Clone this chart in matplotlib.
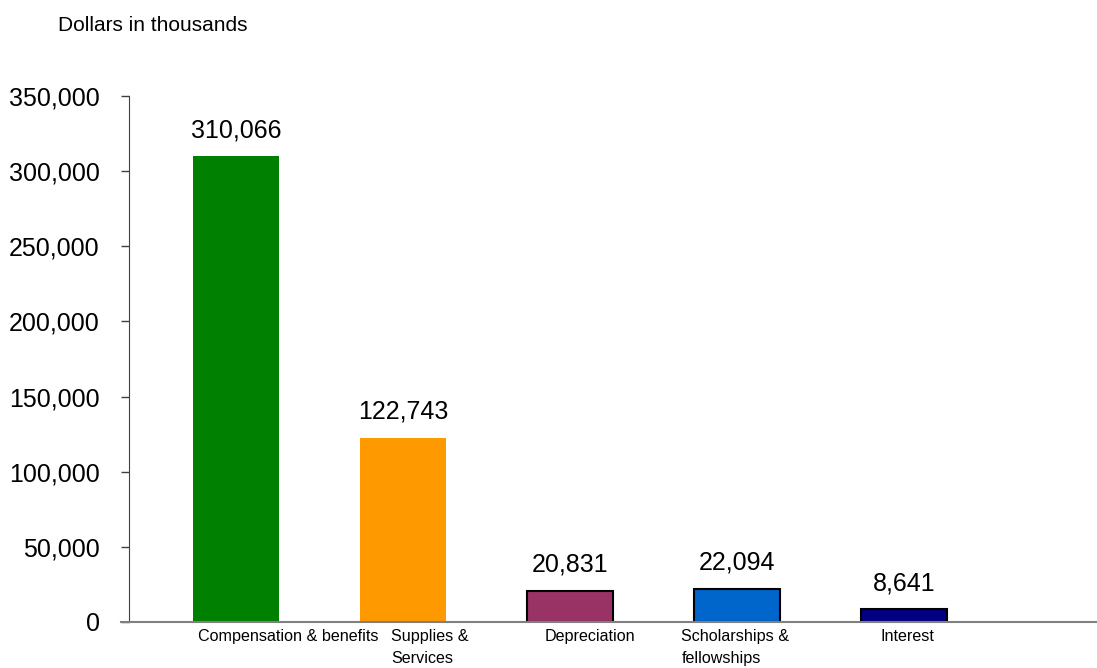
import matplotlib
matplotlib.use("Agg")
import matplotlib.pyplot as plt
import matplotlib.transforms as mtransforms
from matplotlib.ticker import FuncFormatter

# --- data ---
categories = ["Compensation & benefits", "Supplies &\nServices", "Depreciation",
              "Scholarships &\nfellowships", "Interest"]
values = [310066, 122743, 20831, 22094, 8641]
colors = ["#008000", "#FF9900", "#993366", "#0066CC", "#000080"]
edged = [False, False, True, True, True]
label_shift = [0.31, 0.16, 0.12, -0.01, 0.02]   # nudges for the category labels

plt.rcParams["font.family"] = ["Liberation Sans", "DejaVu Sans"]

fig = plt.figure(figsize=(10.97, 6.68), dpi=100)
ax = fig.add_axes([0.1103, 0.0689, 0.8897, 0.7874])

for i, v in enumerate(values):
    ax.bar(i, v, width=0.515, color=colors[i],
           edgecolor="black" if edged[i] else "none",
           linewidth=1.5 if edged[i] else 0, zorder=3)
    ax.annotate(f"{v:,}", (i, v), xytext=(0, 10), textcoords="offset points",
                ha="center", va="bottom", fontsize=18)

ax.set_xlim(-0.689, 5.156)
ax.set_ylim(0, 350000)
ax.set_yticks(range(0, 350001, 50000))
ax.yaxis.set_major_formatter(FuncFormatter(lambda v, p: f"{int(v):,}"))
ax.tick_params(axis="y", length=6, width=1, labelsize=18, pad=15, color="#404040")
ax.set_xticks([])

for s in ["top", "right"]:
    ax.spines[s].set_visible(False)
ax.spines["left"].set_position(("data", -0.641))
ax.spines["left"].set_color("#404040")
ax.spines["bottom"].set_color("#808080")
ax.spines["bottom"].set_linewidth(1.5)
ax.spines["bottom"].set_zorder(4)

trans = mtransforms.blended_transform_factory(ax.transData, ax.transAxes)
for i, name in enumerate(categories):
    ax.text(i + label_shift[i], -0.013, name, transform=trans, ha="center", va="top",
            fontsize=11.6, linespacing=1.6, multialignment="left")

fig.text(58 / 1097, 1 - 31 / 668, "Dollars in thousands", fontsize=15,
         ha="left", va="baseline")

fig.savefig("out.png", dpi=100)
